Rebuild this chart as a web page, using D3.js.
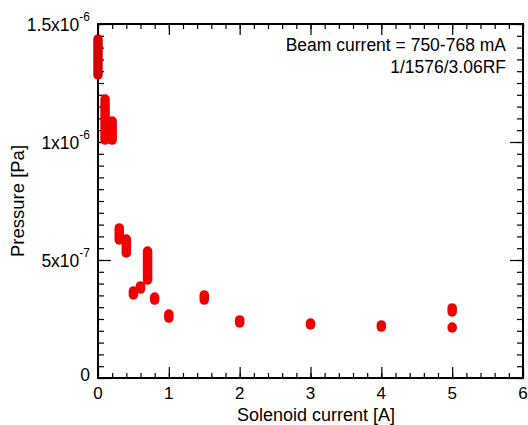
<!DOCTYPE html>
<html><head><meta charset="utf-8">
<script src="https://cdn.jsdelivr.net/npm/d3@7"></script>
<style>
body{margin:0;background:#fff;}
svg{display:block;font-family:"Liberation Sans",Arial,sans-serif;}
</style></head>
<body><svg id="c" width="528" height="425"></svg>
<script>
// Solenoid current [A] for each measured group
const solenoid = [0, 0.1, 0.2, 0.3, 0.4, 0.5, 0.6, 0.7, 0.8, 1.0, 1.5, 2, 3, 4, 5, 5];
// Pressure range within each group [Pa] (low, high)
const pressureLow  = [1.284e-6, 1.008e-6, 1.008e-6, 5.85e-7, 5.30e-7, 3.52e-7, 3.77e-7, 4.15e-7, 3.30e-7, 2.54e-7, 3.30e-7, 2.33e-7, 2.25e-7, 2.16e-7, 2.80e-7, 2.12e-7];
const pressureHigh = [1.436e-6, 1.182e-6, 1.089e-6, 6.36e-7, 5.89e-7, 3.69e-7, 3.90e-7, 5.38e-7, 3.43e-7, 2.71e-7, 3.52e-7, 2.46e-7, 2.33e-7, 2.25e-7, 2.97e-7, 2.16e-7];
const xTicks = [0, 1, 2, 3, 4, 5, 6];
const yTicks = [0, 5e-7, 1e-6, 1.5e-6];
const yTickMant = ["0", "5x10", "1x10", "1.5x10"];
const yTickExp = ["", "-7", "-6", "-6"];
const annotation = ["Beam current = 750-768 mA", "1/1576/3.06RF"];

const L = 98, R = 523, T = 24, B = 378;
const svg = d3.select("#c");
const x = d3.scaleLinear().domain([0, 6]).range([L, R]);
const y = d3.scaleLinear().domain([0, 1.5e-6]).range([B, T]);

const xMinor = d3.range(0, 6.0001, 0.2);
const yMinor = d3.range(0, 1.5e-6 + 1e-12, 5e-8);

function styleAxis(g){
  g.select(".domain").remove();
  g.selectAll("line").attr("stroke", "#000").attr("stroke-width", 1.2);
}
// minor ticks
svg.append("g").attr("transform", `translate(0,${B})`).call(d3.axisBottom(x).tickValues(xMinor).tickSize(-5).tickFormat("")).call(styleAxis);
svg.append("g").attr("transform", `translate(0,${T})`).call(d3.axisTop(x).tickValues(xMinor).tickSize(-5).tickFormat("")).call(styleAxis);
svg.append("g").attr("transform", `translate(${L},0)`).call(d3.axisLeft(y).tickValues(yMinor).tickSize(-6).tickFormat("")).call(styleAxis);
svg.append("g").attr("transform", `translate(${R},0)`).call(d3.axisRight(y).tickValues(yMinor).tickSize(-6).tickFormat("")).call(styleAxis);
// major ticks
svg.append("g").attr("transform", `translate(0,${B})`).call(d3.axisBottom(x).tickValues(xTicks).tickSize(-11).tickFormat("")).call(styleAxis);
svg.append("g").attr("transform", `translate(0,${T})`).call(d3.axisTop(x).tickValues(xTicks).tickSize(-11).tickFormat("")).call(styleAxis);
svg.append("g").attr("transform", `translate(${L},0)`).call(d3.axisLeft(y).tickValues(yTicks).tickSize(-13).tickFormat("")).call(styleAxis);
svg.append("g").attr("transform", `translate(${R},0)`).call(d3.axisRight(y).tickValues(yTicks).tickSize(-13).tickFormat("")).call(styleAxis);

// frame
svg.append("rect").attr("x", L).attr("y", T).attr("width", R - L).attr("height", B - T)
  .attr("fill", "none").attr("stroke", "#000").attr("stroke-width", 2);

// x tick labels
svg.append("g").selectAll("text").data(xTicks).join("text")
  .attr("x", d => x(d)).attr("y", B + 21).attr("text-anchor", "middle")
  .attr("font-size", 17).attr("fill", "#000").text(d => d);

// y tick labels
const yl = svg.append("g").selectAll("text").data(yTicks).join("text")
  .attr("x", L - 8).attr("y", d => y(d) + (d === 0 ? 3 : 7)).attr("text-anchor", "end")
  .attr("font-size", 17.5).attr("fill", "#000");
yl.append("tspan").text((d, i) => yTickMant[i]);
yl.append("tspan").attr("dy", -10).attr("font-size", 12).text((d, i) => yTickExp[i]);

// axis titles
svg.append("text").attr("x", 316).attr("y", 421).attr("text-anchor", "middle")
  .attr("font-size", 18).text("Solenoid current [A]");
svg.append("text").attr("transform", `translate(24,${(T + B) / 2}) rotate(-90)`)
  .attr("text-anchor", "middle").attr("font-size", 18.5).text("Pressure [Pa]");

// annotation
svg.append("g").selectAll("text").data(annotation).join("text")
  .attr("x", 506).attr("y", (d, i) => 51 + i * 22).attr("text-anchor", "end")
  .attr("font-size", 17.5).text(d => d);

// data groups as capsules
const idx = d3.range(solenoid.length);
svg.append("g").selectAll("line").data(idx).join("line")
  .attr("x1", i => x(solenoid[i])).attr("x2", i => x(solenoid[i]))
  .attr("y1", i => y(pressureLow[i])).attr("y2", i => y(pressureHigh[i]))
  .attr("stroke", i => i === 0 ? "#d20000" : "#f00000")
  .attr("stroke-width", 9.5).attr("stroke-linecap", "round");
</script></body></html>
